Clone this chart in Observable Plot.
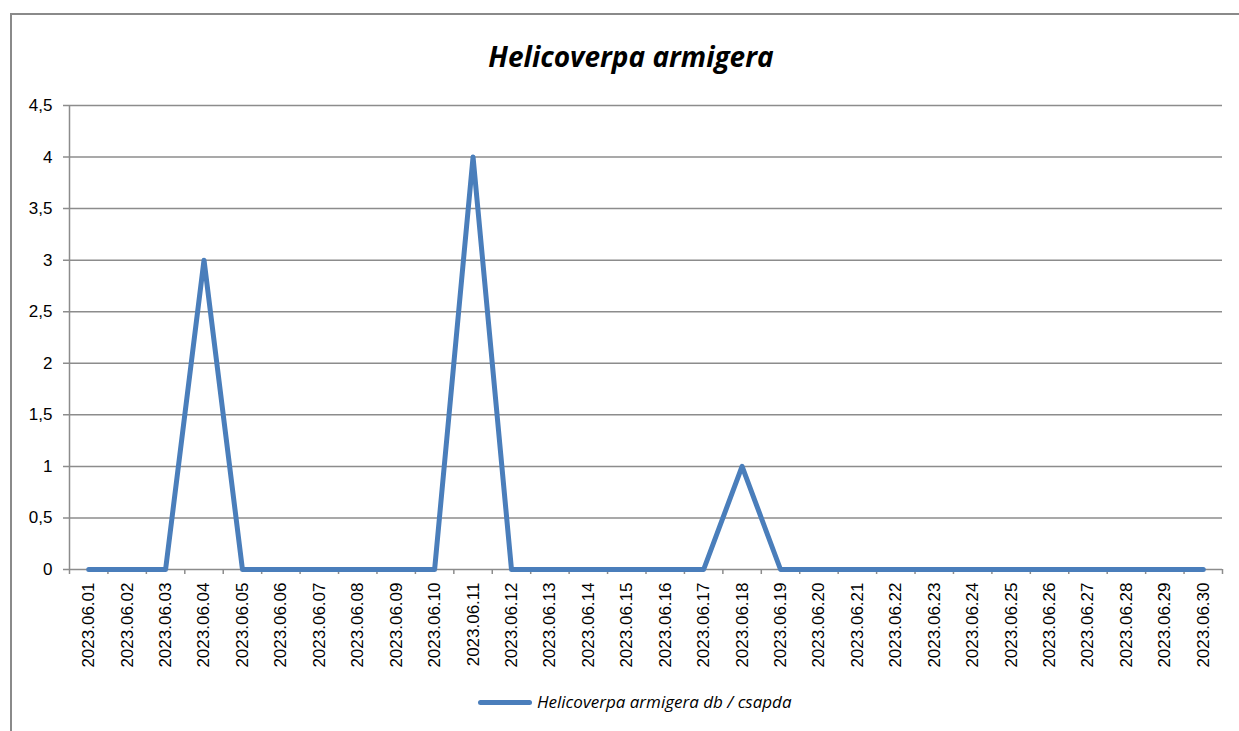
<!DOCTYPE html>
<html>
<head>
<meta charset="utf-8">
<script src="https://cdn.jsdelivr.net/npm/d3@7"></script>
<script src="https://cdn.jsdelivr.net/npm/@observablehq/plot@0.6"></script>
<style>
  html, body { margin: 0; padding: 0; background: #fff; }
  #wrap { position: relative; width: 1239px; height: 731px; overflow: hidden; }
  #frame { position: absolute; left: 10px; top: 13px; width: 1300px; height: 800px;
           border-left: 2px solid #8a8a8a; border-top: 2px solid #8a8a8a; }
  #title { position: absolute; left: 0; top: 36px; width: 1262px; text-align: center;
           font-family: "Open Sans", Lato, sans-serif; font-weight: bold; font-style: italic;
           font-size: 28px; line-height: 40px; color: #000; }
  #legend { position: absolute; left: 478px; top: 689px; display: flex; align-items: center;
            font-family: "Open Sans", Lato, sans-serif; font-style: italic; font-size: 17px; line-height: 26px; color: #000; }
  #legend .sw { width: 54px; height: 5px; border-radius: 3px; background: #4a7ebb; margin-right: 5px; }
  #plot { position: absolute; left: 0; top: 0; }
</style>
</head>
<body>
<div id="wrap">
  <div id="frame"></div>
  <div id="plot"></div>
  <div id="title">Helicoverpa armigera</div>
  <div id="legend"><div class="sw"></div><span>Helicoverpa armigera db / csapda</span></div>
</div>
<script>
const dates = [
  "2023.06.01","2023.06.02","2023.06.03","2023.06.04","2023.06.05","2023.06.06",
  "2023.06.07","2023.06.08","2023.06.09","2023.06.10","2023.06.11","2023.06.12",
  "2023.06.13","2023.06.14","2023.06.15","2023.06.16","2023.06.17","2023.06.18",
  "2023.06.19","2023.06.20","2023.06.21","2023.06.22","2023.06.23","2023.06.24",
  "2023.06.25","2023.06.26","2023.06.27","2023.06.28","2023.06.29","2023.06.30"
];
const values = [0,0,0,3,0,0,0,0,0,0,4,0,0,0,0,0,0,1,0,0,0,0,0,0,0,0,0,0,0,0];
const yTicks = [0,0.5,1,1.5,2,2.5,3,3.5,4,4.5];
const yTickLabels = ["0","0,5","1","1,5","2","2,5","3","3,5","4","4,5"];

const data = values.map((v, i) => ({pos: i + 0.5, date: dates[i], value: v}));
const boundaries = d3.range(dates.length + 1);
const centers = dates.map((d, i) => i + 0.5);
const gridColor = "#8c8c8c";

const chart = Plot.plot({
  width: 1239, height: 731,
  marginLeft: 69, marginRight: 17, marginTop: 105, marginBottom: 162,
  style: {fontFamily: "'Liberation Sans', Arial, sans-serif", fontSize: "17px", color: "#000", background: "transparent"},
  x: {type: "linear", domain: [0, dates.length], axis: null, label: null},
  y: {domain: [0, 4.5], axis: null, label: null},
  marks: [
    Plot.ruleY(yTicks, {stroke: gridColor, strokeWidth: 1.5, insetLeft: -6}),
    Plot.axisX({ticks: boundaries, tickSize: 5, tickFormat: () => "", label: null, stroke: gridColor, strokeWidth: 1.5}),
    Plot.ruleX([0], {y1: 0, y2: 4.5, stroke: gridColor, strokeWidth: 1.5}),
    Plot.axisX({ticks: centers, tickSize: 0, tickPadding: 13, tickRotate: -90, label: null,
                tickFormat: d => dates[Math.round(d - 0.5)], fontSize: 17}),
    Plot.axisY({ticks: yTicks, tickSize: 0, tickPadding: 17, label: null,
                tickFormat: d => yTickLabels[yTicks.indexOf(d)], fontSize: 17}),
    Plot.line(data, {x: "pos", y: "value", stroke: "#4a7ebb", strokeWidth: 5,
                     strokeLinejoin: "round", strokeLinecap: "round"})
  ]
});
document.getElementById("plot").appendChild(chart);
</script>
</body>
</html>
